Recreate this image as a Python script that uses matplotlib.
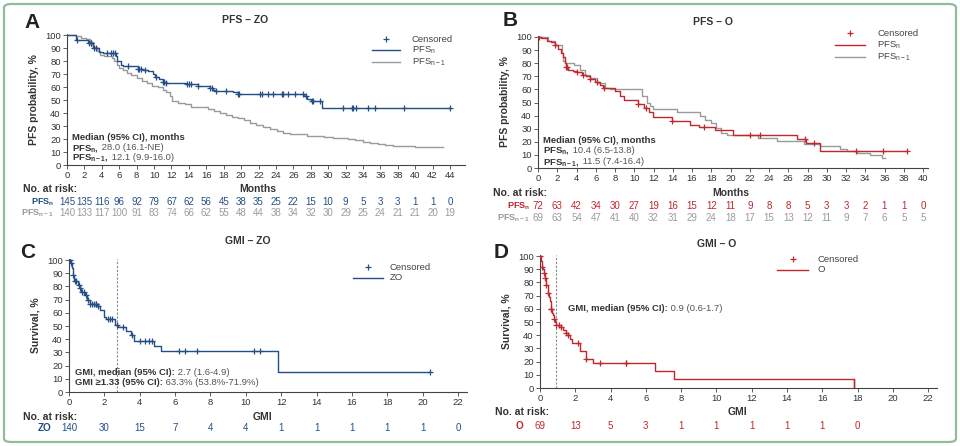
import matplotlib
matplotlib.use("Agg")
import matplotlib.pyplot as plt
import numpy as np
from matplotlib.lines import Line2D
from matplotlib.patches import FancyBboxPatch
from matplotlib import transforms

plt.rcParams['font.family'] = ['Liberation Sans', 'DejaVu Sans']
plt.rcParams['mathtext.fontset'] = 'custom'
plt.rcParams['mathtext.rm'] = 'Liberation Sans'
plt.rcParams['mathtext.bf'] = 'Liberation Sans:bold'
plt.rcParams['mathtext.it'] = 'Liberation Sans:italic'

BLUE = '#244f86'
RED = '#c0282e'
GRAY = '#9a9a9a'
DARK = '#333333'
MID = '#555555'

# ---- panel A: PFS - ZO ----
a_n_t = [0, 1.0, 2.4, 3.0, 3.7, 4.1, 5.6, 5.8, 6.2, 6.4, 8.1, 8.7, 9.3, 9.9, 10.1, 10.6,
         11.0, 11.4, 13.7, 15.0, 16.4, 16.8, 17.1, 19.1, 19.6, 27.2, 27.6, 28.0, 29.3]
a_n_s = [100, 96, 94, 90, 87, 86, 84, 80, 77, 76, 74, 73, 72, 70, 68, 66,
         64, 63, 62, 61, 59, 58, 57, 56, 55, 53, 51, 49, 44]
a_n_end = 44.0
a_n_cens = [1.1, 2.5, 2.7, 2.8, 3.1, 3.3, 4.6, 5.0, 5.3, 5.5, 7.0, 8.1, 8.3, 8.5, 9.0, 10.2,
            11.0, 11.2, 11.4, 13.8, 14.0, 14.2, 15.1, 16.4, 16.7, 17.1, 18.3, 19.6, 19.8,
            22.2, 22.4, 23.1, 23.7, 24.7, 24.8, 25.4, 26.2, 27.1, 27.5, 28.1, 28.3, 29.1,
            31.7, 32.7, 32.9, 33.2, 34.6, 35.4, 38.7, 44.0]
a_p_t = [0, 1.0, 1.6, 2.2, 2.6, 3.0, 3.4, 3.8, 4.3, 5.2, 5.4, 5.7, 6.0, 6.4, 6.9, 7.4,
         8.0, 8.6, 9.2, 9.8, 10.4, 11.0, 11.4, 11.8, 12.1, 12.8, 13.5, 14.3, 15.2, 16.2,
         16.9, 17.6, 18.3, 19.0, 19.7, 20.3, 21.0, 21.7, 22.5, 23.3, 24.1, 24.8, 25.6,
         26.6, 27.6, 28.6, 29.5, 30.5, 31.5, 32.3, 33.1, 34.0, 34.8, 35.7, 36.5, 37.4,
         38.5, 40.0, 41.5, 42.5]
a_p_s = [100, 99, 98, 97, 95, 91, 88, 85, 84, 82, 80, 77, 75, 73, 71, 69,
         67, 65, 63, 61, 60, 58, 56, 53, 49.5, 48, 47, 45, 44.5, 43,
         41.5, 40, 38.5, 37, 36, 34.5, 32, 31, 29.5, 28, 26, 24.5, 24,
         23.5, 22.5, 22, 21.5, 21, 20.5, 20, 19, 18, 17, 16, 15.5, 15,
         14.5, 14, 13.8, 13.5]
a_p_end = 43.2
a_ticks = list(range(0, 45, 2))
a_risk_n = [145, 135, 116, 96, 92, 79, 67, 62, 56, 45, 38, 35, 25, 22, 15, 10, 9, 5, 3, 3, 1, 1, 0]
a_risk_p = [140, 133, 117, 100, 91, 83, 74, 66, 62, 55, 48, 44, 38, 34, 32, 30, 29, 25, 24, 21, 21, 20, 19]

# ---- panel B: PFS - O ----
b_n_t = [0, 0.3, 0.9, 1.4, 1.8, 2.1, 2.4, 2.6, 2.8, 2.9, 3.1, 3.6, 4.1, 4.6, 5.0, 5.4,
         5.9, 6.4, 6.8, 8.0, 8.5, 8.9, 10.4, 11.0, 11.5, 11.9, 13.9, 15.8, 16.7, 18.4,
         20.3, 26.9, 27.8, 29.3]
b_n_s = [100, 99, 97, 96, 94, 91, 88, 85, 80, 77, 75, 74, 73, 71, 70, 68,
         66, 63, 61, 59, 55, 52, 49, 46, 43, 39, 36, 33, 31, 29,
         25.5, 22, 19, 13]
b_n_end = 38.3
b_n_cens = [0.1, 1.8, 2.9, 3.0, 4.1, 4.7, 5.4, 6.1, 6.9, 10.4, 11.2, 13.9, 17.2,
            22.0, 23.1, 27.7, 28.7, 33.0, 35.8, 38.3]
b_p_t = [0, 1.0, 1.8, 2.5, 2.6, 2.8, 3.7, 4.4, 4.9, 5.4, 6.1, 7.0, 7.5, 10.8, 11.3,
         11.6, 11.9, 14.4, 16.8, 17.4, 18.0, 18.5, 19.0, 19.6, 22.9, 24.8, 27.6, 29.3,
         31.4, 32.1, 33.1, 34.5, 35.7]
b_p_s = [100, 97, 94, 88, 82, 80, 79, 75, 71, 69, 65, 61, 60, 55, 49.5,
         47, 45, 43, 40, 37, 34, 30.5, 27, 25.5, 23, 20.5, 18, 16.5,
         14.7, 12.7, 11.4, 9.6, 8]
b_p_end = 36.1
b_ticks = list(range(0, 41, 2))
b_risk_n = [72, 63, 42, 34, 30, 27, 19, 16, 15, 12, 11, 9, 8, 8, 5, 3, 3, 2, 1, 1, 0]
b_risk_p = [69, 63, 54, 47, 41, 40, 32, 31, 29, 24, 18, 17, 15, 13, 12, 11, 9, 7, 6, 5, 5]

# ---- panel C: GMI - ZO ----
c_t = [0, 0.1, 0.15, 0.2, 0.26, 0.3, 0.5, 0.6, 0.7, 0.9, 1.0, 1.2, 1.6, 1.75, 2.0, 2.1,
       2.6, 2.75, 3.2, 3.5, 3.7, 4.8, 5.2, 11.8]
c_s = [100, 98, 94, 89, 86, 84, 81, 78.5, 76, 73.5, 70, 67, 65, 62, 57, 55,
       51, 49, 46, 43, 39, 35, 30.7, 15.3]
c_end = 20.4
c_cens = [0.05, 0.12, 0.2, 0.35, 0.4, 0.55, 0.65, 0.75, 0.85, 0.95, 1.05, 1.2, 1.3, 1.4,
          1.5, 1.55, 1.65, 2.2, 2.3, 2.45, 2.7, 3.05, 3.55, 4.0, 4.3, 4.5, 4.7, 6.2, 6.55,
          7.25, 10.45, 10.8, 20.4]
c_median = 2.7
c_ticks = list(range(0, 23, 2))
c_risk = [140, 30, 15, 7, 4, 4, 1, 1, 1, 1, 1, 0]

# ---- panel D: GMI - O ----
d_t = [0, 0.05, 0.1, 0.15, 0.2, 0.3, 0.35, 0.45, 0.5, 0.55, 0.6, 0.7, 0.75, 0.8, 0.85,
       0.9, 1.1, 1.3, 1.5, 1.6, 1.7, 1.8, 2.25, 2.6, 3.0, 6.5, 7.6, 17.8]
d_s = [100, 96, 92, 90, 87, 83, 78, 72, 69, 66, 60, 57, 55, 52, 50,
       48, 46, 44, 42, 40, 37, 34, 28, 22, 19, 13, 6.5, 0]
d_end = 17.8
d_cens = [0.02, 0.1, 0.2, 0.3, 0.35, 0.45, 0.6, 0.65, 0.8, 0.9, 1.05, 1.2, 1.5, 1.6,
          2.15, 2.6, 3.4, 4.85, 4.9]
d_median = 0.9
d_ticks = list(range(0, 23, 2))
d_risk = [69, 13, 5, 3, 1, 1, 1, 1, 1, 0]

W, H = 960, 446
fig = plt.figure(figsize=(W / 100, H / 100), dpi=100)


def fx(px):
    return px / W


def fy(py):
    return 1 - py / H


def make_ax(left, bottom, xscale, yscale, xmax, ticks, ylabel):
    right = left + xmax * xscale
    top = bottom - 101 * yscale
    ax = fig.add_axes([fx(left), fy(bottom), (right - left) / W, (bottom - top) / H])
    ax.set_xlim(0, xmax)
    ax.set_ylim(0, 101)
    ax.set_xticks(ticks)
    ax.set_yticks(range(0, 101, 10))
    for s in ['top', 'right']:
        ax.spines[s].set_visible(False)
    for s in ['left', 'bottom']:
        ax.spines[s].set_color('#444444')
        ax.spines[s].set_linewidth(0.8)
    ax.tick_params(length=3, width=0.6, color='#444444', labelsize=6.8,
                   labelcolor='#333333', pad=1.5)
    ax.patch.set_alpha(0)
    fig.text(fx(left - 33), fy((top + bottom) / 2), ylabel, rotation=90, ha='center',
             va='center', fontsize=7.5, fontweight='bold', color=DARK)
    return ax


def km(ax, t, s, end, cens, color):
    tt = list(t) + [end]
    ss = list(s) + [s[-1]]
    ax.step(tt, ss, where='post', color=color, lw=1.0, zorder=3)
    idx = np.searchsorted(t, cens, side='right') - 1
    cy = np.array(s)[idx]
    ax.plot(cens, cy, ls='none', marker='+', ms=4.5, mew=0.9, color=color, zorder=4)


def risk_row(ax, ticks, vals, ypx, color, label, label_right, lcolor, lsize=6.6):
    tr = transforms.blended_transform_factory(ax.transData, fig.transFigure)
    for x, v in zip(ticks, vals):
        ax.text(x, fy(ypx), str(v), transform=tr, ha='center', va='center',
                fontsize=7, color=color)
    fig.text(fx(label_right), fy(ypx), label, ha='right', va='center', fontsize=lsize,
             fontweight='bold', color=lcolor)


def legend(xl0, xl1, xtext, rows):
    for ypx, kind, color, label in rows:
        if kind == 'cens':
            fig.add_artist(Line2D([fx((xl0 + xl1) / 2)], [fy(ypx)], ls='none', marker='+',
                                  ms=4.5, mew=0.9, color=color, transform=fig.transFigure))
        else:
            fig.add_artist(Line2D([fx(xl0), fx(xl1)], [fy(ypx), fy(ypx)], lw=1.0,
                                  color=color, transform=fig.transFigure))
        fig.text(fx(xtext), fy(ypx), label, ha='left', va='center', fontsize=6.8,
                 color='#444444')


renderer = fig.canvas.get_renderer()


def two_part(xpx, ypx, bold, rest):
    t1 = fig.text(fx(xpx), fy(ypx), bold, ha='left', va='baseline', fontsize=6.8,
                  fontweight='bold', color=DARK)
    bb = t1.get_window_extent(renderer)
    fig.text(bb.x1 / W, fy(ypx), rest, ha='left', va='baseline', fontsize=6.8, color=MID)


def header(letter, lx, ly, title, tx, ty):
    fig.text(fx(lx), fy(ly), letter, ha='center', va='center', fontsize=15,
             fontweight='bold', color='#222222')
    fig.text(fx(tx), fy(ty), title, ha='center', va='center', fontsize=7.5,
             fontweight='bold', color=DARK)


def axis_text(nx, ny, xlabel, lx):
    fig.text(fx(nx), fy(ny), 'No. at risk:', ha='left', va='center', fontsize=7.5,
             fontweight='bold', color=DARK)
    fig.text(fx(lx), fy(ny), xlabel, ha='center', va='center', fontsize=7.5,
             fontweight='bold', color=DARK)


# Panel A
axA = make_ax(67, 165, 8.705, 1.3, 45.7, a_ticks, 'PFS probability, %')
km(axA, a_p_t, a_p_s, a_p_end, [], GRAY)
km(axA, a_n_t, a_n_s, a_n_end, a_n_cens, BLUE)
header('A', 32, 22, 'PFS – ZO', 245, 20)
legend(372, 400, 412, [(39, 'cens', BLUE, 'Censored'),
                       (50, 'line', BLUE, r'PFS$_\mathregular{n}$'),
                       (62, 'line', GRAY, r'PFS$_\mathregular{n-1}$')])
fig.text(fx(72), fy(140), 'Median (95% CI), months', ha='left', va='baseline',
         fontsize=6.8, fontweight='bold', color=DARK)
two_part(72, 150, r'PFS$_\mathbf{n}$,', ' 28.0 (16.1-NE)')
two_part(72, 160, r'PFS$_\mathbf{n-1}$,', ' 12.1 (9.9-16.0)')
axis_text(23, 189, 'Months', 258)
risk_row(axA, a_ticks, a_risk_n, 202, BLUE, r'PFS$_\mathbf{n}$', 54, BLUE)
risk_row(axA, a_ticks, a_risk_p, 213, GRAY, r'PFS$_\mathbf{n-1}$', 54, GRAY)

# Panel B
axB = make_ax(538, 168, 9.625, 1.31, 40.5, b_ticks, 'PFS probability, %')
km(axB, b_p_t, b_p_s, b_p_end, [], GRAY)
km(axB, b_n_t, b_n_s, b_n_end, b_n_cens, RED)
header('B', 510, 21, 'PFS – O', 713, 22)
legend(835, 865, 877, [(33, 'cens', RED, 'Censored'),
                       (45, 'line', RED, r'PFS$_\mathregular{n}$'),
                       (57, 'line', GRAY, r'PFS$_\mathregular{n-1}$')])
fig.text(fx(543), fy(143), 'Median (95% CI), months', ha='left', va='baseline',
         fontsize=6.8, fontweight='bold', color=DARK)
two_part(543, 153, r'PFS$_\mathbf{n}$,', ' 10.4 (6.5-13.8)')
two_part(543, 164, r'PFS$_\mathbf{n-1}$,', ' 11.5 (7.4-16.4)')
axis_text(493, 193, 'Months', 731)
risk_row(axB, b_ticks, b_risk_n, 206, RED, r'PFS$_\mathbf{n}$', 530, RED)
risk_row(axB, b_ticks, b_risk_p, 218, GRAY, r'PFS$_\mathbf{n-1}$', 530, GRAY)

# Panel C
axC = make_ax(69, 392, 17.68, 1.32, 22.5, c_ticks, 'Survival, %')
axC.axvline(c_median, color='#888888', lw=0.8, ls=(0, (2, 1.5)), zorder=2)
km(axC, c_t, c_s, c_end, c_cens, BLUE)
header('C', 28, 252, 'GMI – ZO', 248, 241)
legend(353, 383, 390, [(267, 'cens', BLUE, 'Censored'),
                       (278, 'line', BLUE, 'ZO')])
two_part(75, 375, 'GMI, median (95% CI):', ' 2.7 (1.6-4.9)')
two_part(75, 385, 'GMI ≥1.33 (95% CI):', ' 63.3% (53.8%-71.9%)')
axis_text(23, 417, 'GMI', 262)
risk_row(axC, c_ticks, c_risk, 428, BLUE, 'ZO', 52, BLUE, 7.2)

# Panel D
axD = make_ax(540, 388, 17.64, 1.32, 22.5, d_ticks, 'Survival, %')
axD.axvline(d_median, color='#888888', lw=0.8, ls=(0, (2, 1.5)), zorder=2)
km(axD, d_t, d_s, d_end, d_cens, RED)
axD.plot([d_end, d_end], [d_s[-2], 0], color=RED, lw=1.0)
header('D', 501, 252, 'GMI – O', 717, 244)
legend(777, 808, 818, [(259, 'cens', RED, 'Censored'),
                       (270, 'line', RED, 'O')])
two_part(568, 311, 'GMI, median (95% CI):', ' 0.9 (0.6-1.7)')
axis_text(495, 412, 'GMI', 737)
risk_row(axD, d_ticks, d_risk, 426, RED, 'O', 523, RED, 7.2)

# outer green frame
fig.add_artist(FancyBboxPatch((fx(4), fy(442)), fx(952), 438 / H,
                              boxstyle='round,pad=0,rounding_size=0.008',
                              transform=fig.transFigure, facecolor='none',
                              edgecolor='#8fbf98', lw=1.6))

fig.savefig('out.png', dpi=100)
